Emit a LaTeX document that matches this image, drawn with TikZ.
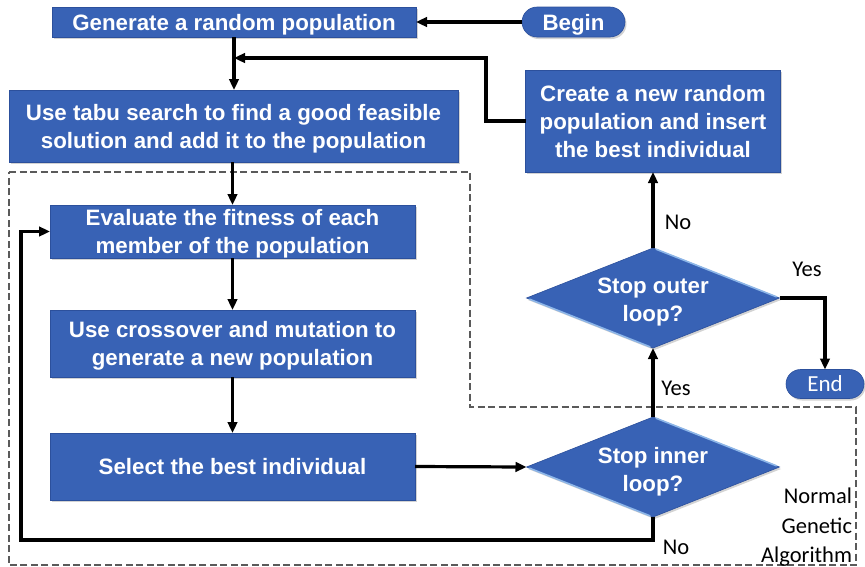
\documentclass[tikz,border=0pt]{standalone}
\usepackage{fontspec}
\setmainfont{Liberation Sans}
\newfontfamily\notefont{Carlito}
\usetikzlibrary{shapes.geometric,shapes.misc,arrows.meta,shadows}
\definecolor{boxblue}{HTML}{3862B5}
\definecolor{boxedge}{HTML}{2C509C}
\definecolor{gleam}{HTML}{8DB6E8}
\definecolor{groupline}{HTML}{5A5A5A}
\begin{document}
\begin{tikzpicture}[x=1pt,y=-1pt,
  every node/.style={inner sep=0pt, outer sep=0pt},
  boxfont/.style={font=\bfseries\fontsize{22.3}{28}\selectfont},
  stepbox/.style={rectangle, fill=boxblue, draw=boxedge, line width=0.6pt,
    text=white, boxfont, align=center, text depth=0pt,
    drop shadow={shadow xshift=1.5pt, shadow yshift=-2pt, opacity=0.35}},
  terminal/.style={rounded rectangle, fill=boxblue, draw=boxedge, line width=0.6pt,
    text=white, align=center, text depth=0pt,
    drop shadow={shadow xshift=1.5pt, shadow yshift=-2pt, opacity=0.35}},
  decision/.style={diamond, fill=boxblue, draw=boxedge, line width=0.6pt,
    minimum width=253pt, minimum height=100pt,
    drop shadow={shadow xshift=1.5pt, shadow yshift=-2pt, opacity=0.35}},
  dtext/.style={text=white, boxfont, align=center, text depth=0pt, yshift=-2pt},
  gleamline/.style={draw=gleam, line width=1.6pt, shorten <=3pt, shorten >=3pt},
  flow/.style={line width=3.2pt, -{Triangle[length=11pt,width=9.5pt]}},
  note/.style={font=\notefont\fontsize{22.5}{29}\selectfont, text=black},
  group/.style={draw=groupline, line width=1.1pt, dash pattern=on 7pt off 3.5pt}]

\useasboundingbox (0,0) rectangle (865,566);

% dashed frame around the normal genetic algorithm
\draw[group] (9,172) -- (470,172) -- (470,407) -- (856,407) -- (856,565) -- (9,565) -- cycle;

% process boxes
\node[stepbox, minimum width=364pt, minimum height=30pt] (gen) at (234,22)
  {Generate a random population};
\node[stepbox, minimum width=449pt, minimum height=72pt] (tabu) at (233.5,126)
  {Use tabu search to find a good feasible\\solution and add it to the population};
\node[stepbox, minimum width=255pt, minimum height=102pt] (create) at (653,121)
  {Create a new random\\population and insert\\the best individual};
\node[stepbox, minimum width=365pt, minimum height=53pt] (eval) at (232.5,231.5)
  {Evaluate the fitness of each\\member of the population};
\node[stepbox, minimum width=365pt, minimum height=67pt] (cross) at (232.5,343.5)
  {Use crossover and mutation to\\generate a new population};
\node[stepbox, minimum width=365pt, minimum height=67pt] (select) at (232.5,466.5)
  {Select the best individual};

% terminals
\node[terminal, font=\bfseries\fontsize{22.3}{28}\selectfont, minimum width=103pt, minimum height=30pt] (begin) at (573.5,22) {Begin};
\node[terminal, font=\notefont\fontsize{23}{28}\selectfont, minimum width=78pt, minimum height=29pt] (end) at (825,384) {End};

% decisions
\node[decision] (outer) at (653,298) {};
\draw[gleamline] (outer.north) -- (outer.east);
\draw[gleamline] (outer.south) -- (outer.west);
\node[dtext] (outertext) at (outer.center) {Stop outer\\loop?};
\node[decision] (inner) at (653,467) {};
\draw[gleamline] (inner.north) -- (inner.east);
\draw[gleamline] (inner.south) -- (inner.west);
\node[dtext] (innertext) at (inner.center) {Stop inner\\loop?};

% junction points of the connectors
\coordinate (join) at (234,58);
\coordinate (bend) at (486,58);
\coordinate (loopcorner) at (21,540);

% connectors
\draw[flow] (begin.west) -- (gen.east);
\draw[flow] (gen.south) -- (gen.south |- tabu.north);
\draw[flow] (create.west) -| (bend) -- (join);
\draw[flow] (tabu.south -| eval.north) -- (eval.north);
\draw[flow] (eval.south) -- (cross.north);
\draw[flow] (cross.south) -- (select.north);
\draw[flow] (select.east) -- (inner.west);
\draw[flow] (inner.south) |- (loopcorner) |- (eval.west);
\draw[flow] (inner.north) -- (outer.south);
\draw[flow] (outer.north) -- (create.south);
\draw[flow] (outer.east) -| (end.north);

% branch labels
\node[note] (yesinner) at (676,388) {Yes};
\node[note] (noouter) at (678,222) {No};
\node[note] (yesouter) at (807,269) {Yes};
\node[note] (noinner) at (676,547) {No};
\node[note, anchor=base east] (nga1) at (852,503) {Normal};
\node[note, anchor=base east] (nga2) at (852,533) {Genetic};
\node[note, anchor=base east] (nga3) at (852,562) {Algorithm};
\end{tikzpicture}
\end{document}
